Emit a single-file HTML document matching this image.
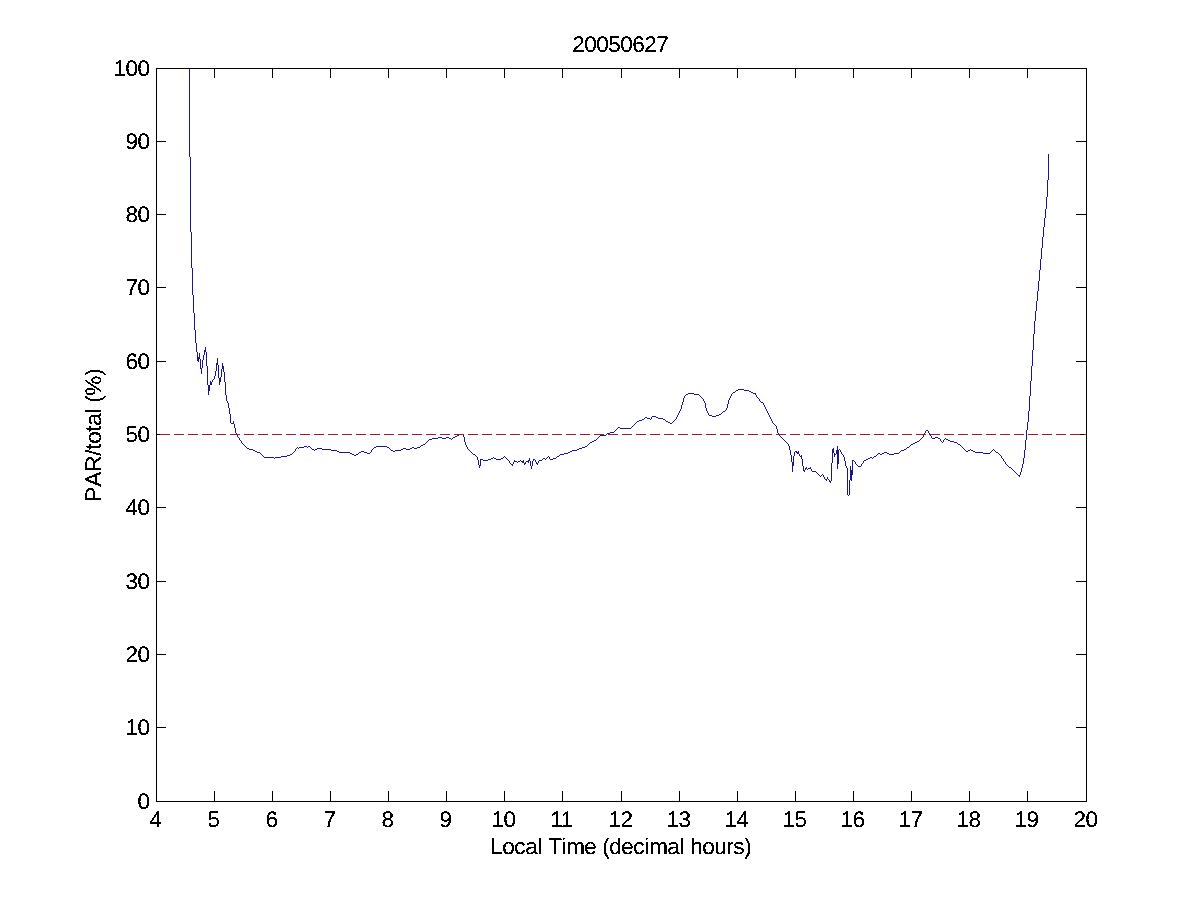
<!DOCTYPE html>
<html><head><meta charset="utf-8"><title>20050627</title>
<style>
html,body{margin:0;padding:0;background:#fff;}
body{width:1200px;height:900px;overflow:hidden;}
svg{display:block;will-change:transform;}
text{font-family:"Liberation Sans",sans-serif;font-size:22.5px;fill:#000;letter-spacing:-0.51px;}
</style></head>
<body>
<svg width="1200" height="900" viewBox="0 0 1200 900">
<defs><filter id="al" x="-20%" y="-20%" width="140%" height="140%" color-interpolation-filters="sRGB"><feComponentTransfer><feFuncA type="discrete" tableValues="0 0 1 1 1"/></feComponentTransfer></filter></defs>
<rect width="1200" height="900" fill="#fff"/>
<g shape-rendering="crispEdges" fill="none">
<path d="M214.5 801.5V791.0M214.5 68.5V78.0M272.5 801.5V791.0M272.5 68.5V78.0M330.5 801.5V791.0M330.5 68.5V78.0M388.5 801.5V791.0M388.5 68.5V78.0M446.5 801.5V791.0M446.5 68.5V78.0M504.5 801.5V791.0M504.5 68.5V78.0M562.5 801.5V791.0M562.5 68.5V78.0M621.5 801.5V791.0M621.5 68.5V78.0M679.5 801.5V791.0M679.5 68.5V78.0M737.5 801.5V791.0M737.5 68.5V78.0M795.5 801.5V791.0M795.5 68.5V78.0M853.5 801.5V791.0M853.5 68.5V78.0M911.5 801.5V791.0M911.5 68.5V78.0M969.5 801.5V791.0M969.5 68.5V78.0M1027.5 801.5V791.0M1027.5 68.5V78.0M156.5 727.5H166.0M1086.5 727.5H1076.0M156.5 654.5H166.0M1086.5 654.5H1076.0M156.5 581.5H166.0M1086.5 581.5H1076.0M156.5 507.5H166.0M1086.5 507.5H1076.0M156.5 434.5H166.0M1086.5 434.5H1076.0M156.5 361.5H166.0M1086.5 361.5H1076.0M156.5 287.5H166.0M1086.5 287.5H1076.0M156.5 214.5H166.0M1086.5 214.5H1076.0M156.5 141.5H166.0M1086.5 141.5H1076.0" stroke="#000" stroke-width="1"/>
<path d="M189.5 68v89M190.5 157v75M191.5 232v36M192.5 268v27M193.5 295v18M194.5 313v17M195.5 330v13M196.5 343v9M197.5 352v9M198.5 357v5M199.5 353v6M200.5 359v10M201.5 368v6M202.5 360v8M203.5 355v5M204.5 350v5M205.5 347v5M206.5 352v14M207.5 366v19M208.5 385v10M209.5 385v6M210.5 381v4M211.5 382v3M212 380.5h1M212 381.5h1M213 379.5h1M214.5 376v3M215.5 371v5M216.5 363v8M217.5 358v7M218.5 365v13M219.5 378v7M220.5 377v5M221.5 369v8M222.5 363v6M223.5 366v6M224.5 372v10M225.5 382v13M226.5 395v6M227 401.5h1M227 402.5h1M228.5 403v5M229.5 408v6M230.5 414v9M231 423.5h2M233.5 421v3M234.5 424v4M235.5 428v5M236 433.5h1M236 434.5h1M237 435.5h1M237 436.5h1M238 437.5h1M239 438.5h1M239 439.5h1M240 440.5h1M241 441.5h1M241 442.5h1M242 443.5h1M243 444.5h1M244 445.5h1M245 446.5h1M246 447.5h1M247 448.5h2M249 449.5h4M253 450.5h2M255 451.5h2M257 452.5h3M260 453.5h1M261 454.5h1M262 455.5h1M263 456.5h1M264 457.5h10M274 458.5h1M275 457.5h6M281 456.5h6M287 455.5h3M290 454.5h2M292 453.5h1M293 452.5h1M294 451.5h1M295 449.5h1M295 450.5h1M296 448.5h1M297 447.5h1M298 448.5h1M299 447.5h5M304 446.5h3M307 447.5h1M308 446.5h2M310 447.5h1M311 448.5h1M312 449.5h2M314 450.5h1M315 449.5h2M317 448.5h5M322 449.5h9M331 450.5h6M337 451.5h2M339 452.5h11M350 453.5h2M352 454.5h2M354 455.5h2M356 454.5h2M358 453.5h1M359 452.5h2M361 451.5h3M364 452.5h3M367 453.5h3M370 452.5h1M371 450.5h1M371 451.5h1M372 449.5h1M373 448.5h1M374 447.5h2M376 446.5h11M387 447.5h2M389 448.5h1M390 449.5h1M391 450.5h2M393 451.5h2M395 450.5h6M401 449.5h2M403 448.5h3M406 449.5h4M410 448.5h2M412 447.5h2M414 448.5h3M417 447.5h3M420 446.5h1M421 445.5h2M423 444.5h2M425 443.5h1M426 442.5h1M427 441.5h1M428 440.5h1M429 439.5h3M432 438.5h6M438 437.5h4M442 438.5h4M446 437.5h3M449 438.5h2M451 439.5h1M452 438.5h1M453 437.5h2M455 436.5h2M457 435.5h2M459 434.5h4M463.5 434v3M464.5 437v5M465.5 442v3M466 445.5h1M466 446.5h1M467 447.5h1M467 448.5h1M468 449.5h1M469 450.5h1M470 451.5h1M471 452.5h1M472 453.5h1M473 454.5h2M475 455.5h1M476 456.5h1M477.5 457v3M478.5 460v5M479.5 465v3M480.5 459v7M481 459.5h2M483 460.5h5M488 459.5h3M491 458.5h2M493 457.5h1M494 458.5h2M496 459.5h5M501 458.5h2M503 457.5h1M504 456.5h1M505 457.5h1M506 458.5h1M507 459.5h1M508 460.5h1M509 461.5h1M509 462.5h1M510 463.5h1M511 464.5h2M512 465.5h1M513 462.5h1M513 463.5h1M514 460.5h1M514 461.5h3M517 462.5h1M518 461.5h2M520 460.5h1M521 461.5h2M522 462.5h1M523.5 460v3M524 463.5h2M524 464.5h1M525 462.5h1M526 461.5h2M528.5 460v3M529.5 458v3M530.5 461v5M531.5 466v3M532.5 461v5M533 459.5h2M533 460.5h1M535 460.5h1M535 461.5h1M536 462.5h1M536 463.5h2M537 464.5h1M538 461.5h1M538 462.5h1M539 460.5h3M542 459.5h1M543 458.5h2M545 459.5h1M546 458.5h1M547 457.5h1M548 456.5h1M549 457.5h1M549 458.5h1M550 459.5h3M553 458.5h3M556 457.5h1M557 456.5h2M559 455.5h1M560 454.5h4M564 453.5h4M568 452.5h2M570 451.5h2M572 450.5h5M577 449.5h2M579 448.5h3M582 447.5h3M585 446.5h2M587 445.5h1M588 444.5h1M589 443.5h1M590 442.5h2M592 441.5h2M594 440.5h2M596 439.5h1M597 438.5h1M598 437.5h1M599 436.5h1M600 435.5h6M606 434.5h1M607 433.5h3M610 432.5h4M614 431.5h1M615 430.5h1M616 429.5h1M617 428.5h1M618 427.5h2M620 428.5h11M631 427.5h1M632 426.5h1M633 425.5h1M634 424.5h1M635 423.5h1M636 422.5h1M637 421.5h2M639 420.5h3M642 419.5h2M644 418.5h1M645 417.5h2M647 418.5h3M650 419.5h1M651 417.5h1M651 418.5h1M652 416.5h4M656 417.5h2M658 418.5h5M663 419.5h2M665 420.5h1M666 421.5h2M668 422.5h2M670 423.5h2M672 422.5h1M673 421.5h1M674 420.5h1M675 419.5h1M676 417.5h1M676 418.5h1M677 415.5h1M677 416.5h1M678 413.5h1M678 414.5h1M679 411.5h1M679 412.5h1M680 409.5h1M680 410.5h1M681.5 405v4M682.5 402v3M683.5 398v4M684 396.5h1M684 397.5h1M685 395.5h1M686 394.5h2M688 393.5h6M694 394.5h5M699 395.5h1M700 396.5h1M701 397.5h1M702 398.5h1M703 399.5h1M703 400.5h1M704 401.5h1M704 402.5h1M705.5 403v5M706.5 408v3M707 411.5h1M707 412.5h1M708 413.5h1M708 414.5h1M709 415.5h3M712 416.5h4M716 415.5h3M719 414.5h2M721 413.5h1M722 412.5h1M723 411.5h2M725 410.5h1M726 408.5h1M726 409.5h1M727.5 404v4M728.5 400v4M729 398.5h1M729 399.5h1M730 396.5h1M730 397.5h1M731 394.5h1M731 395.5h1M732 393.5h1M733 392.5h2M735 391.5h1M736 390.5h2M738 389.5h6M744 390.5h5M749 391.5h2M751 392.5h2M753 393.5h3M755 394.5h1M756 395.5h1M756 396.5h1M757 397.5h1M758 398.5h1M759 399.5h1M759 400.5h1M760 401.5h1M761 402.5h2M763 403.5h1M763 404.5h1M764 405.5h1M764 406.5h1M765 407.5h1M765 408.5h1M766 409.5h1M766 410.5h1M767 411.5h1M767 412.5h1M768 413.5h1M768 414.5h1M769 415.5h1M769 416.5h1M770 417.5h1M770 418.5h1M771 419.5h1M771 420.5h1M772 421.5h1M772 422.5h1M773 423.5h1M774 424.5h1M775 425.5h1M776.5 426v3M777.5 429v4M778 433.5h1M778 434.5h1M779 435.5h1M780 436.5h1M781 437.5h1M782 438.5h1M783 439.5h1M784 440.5h1M785 441.5h1M786 442.5h1M787 443.5h1M788 444.5h1M788 445.5h1M789.5 446v4M790.5 450v5M791.5 455v7M792.5 462v10M793.5 456v10M794.5 452v4M795 451.5h2M796 452.5h2M797 453.5h1M798.5 451v3M799 454.5h1M799 455.5h1M800 456.5h1M801.5 455v4M802.5 459v7M803.5 466v5M804 470.5h1M804 471.5h1M805 468.5h2M805 469.5h1M806 467.5h1M807 469.5h1M808 468.5h3M810 467.5h1M811 469.5h1M811 470.5h1M812 471.5h4M816 472.5h1M817 473.5h1M818 474.5h1M819 475.5h1M820 476.5h1M821 475.5h1M822 474.5h1M823 475.5h1M823 476.5h1M824 477.5h1M824 478.5h1M825 479.5h2M826 480.5h1M827 477.5h1M827 478.5h1M828 479.5h1M829 480.5h1M829 481.5h2M830 482.5h1M831.5 463v18M832.5 449v14M833.5 448v5M834.5 453v4M835 454.5h1M836.5 450v4M837.5 446v23M838.5 450v14M839 449.5h1M840 450.5h1M840 451.5h1M841 452.5h1M841 453.5h1M842 454.5h1M843 455.5h1M843 456.5h1M844.5 457v4M845.5 461v5M846 466.5h1M846 467.5h1M847.5 468v27M848 495.5h1M849.5 480v15M850.5 466v14M851.5 470v11M852.5 460v15M853 460.5h1M854 461.5h1M855 462.5h1M855 463.5h1M856 464.5h1M857 465.5h1M858 466.5h3M861 464.5h1M861 465.5h1M862 463.5h1M863 461.5h1M863 462.5h1M864 460.5h2M866 459.5h2M868 458.5h2M870 457.5h2M872 458.5h1M873 457.5h1M874 456.5h2M876 455.5h1M877 454.5h1M878 453.5h2M880 454.5h2M882 453.5h2M884 452.5h3M887 453.5h2M889 454.5h5M894 453.5h5M899 452.5h1M900 451.5h1M901 450.5h3M904 449.5h2M906 448.5h1M907 447.5h2M909 446.5h1M910 445.5h1M911 444.5h2M913 443.5h2M915 442.5h2M917 441.5h2M919 440.5h1M920 439.5h1M921 438.5h1M922 437.5h1M923 435.5h1M923 436.5h1M924 433.5h1M924 434.5h1M925 431.5h1M925 432.5h1M926 430.5h2M928 431.5h1M928 432.5h1M929 433.5h1M929 434.5h1M930 435.5h1M931 436.5h1M931 437.5h1M932 438.5h3M935 437.5h3M938 438.5h2M940 439.5h1M940 440.5h1M941 441.5h1M942 442.5h1M943 440.5h1M943 441.5h1M944 439.5h1M945 438.5h1M946 439.5h2M948 440.5h2M950 441.5h4M954 442.5h3M957 443.5h1M958 444.5h2M960 445.5h1M961 446.5h1M962 447.5h1M963 448.5h1M964 449.5h1M965 450.5h1M966 451.5h2M968 450.5h2M970 449.5h1M971 450.5h2M973 451.5h2M975 452.5h8M983 453.5h7M990 452.5h1M991 451.5h1M992 450.5h1M993 449.5h1M994 450.5h1M995 451.5h1M996 452.5h2M998 453.5h1M999 454.5h1M1000 455.5h1M1001 456.5h1M1001 457.5h1M1002 458.5h1M1003 459.5h1M1003 460.5h1M1004 461.5h1M1005 462.5h1M1005 463.5h1M1006 464.5h1M1007 465.5h1M1008 466.5h1M1009 467.5h2M1011 468.5h1M1012 469.5h1M1013 470.5h1M1014 471.5h1M1015 472.5h1M1016 473.5h1M1017 474.5h1M1018 475.5h2M1019 476.5h1M1020.5 472v3M1021.5 468v4M1022.5 464v4M1023.5 458v6M1024.5 450v8M1025.5 440v10M1026.5 430v10M1027.5 422v8M1028.5 411v11M1029.5 396v15M1030.5 381v15M1031.5 366v15M1032.5 350v16M1033.5 334v16M1034.5 321v13M1035.5 311v10M1036.5 301v10M1037.5 291v10M1038.5 281v10M1039.5 270v11M1040.5 259v11M1041.5 248v11M1042.5 237v11M1043.5 227v10M1044.5 218v9M1045.5 209v9M1046.5 197v12M1047.5 180v17M1048.5 154v26" stroke="#181688" stroke-width="1"/>
<path d="M160 434.5H1087" stroke="#9e1f27" stroke-width="1" stroke-dasharray="10 4"/>
<rect x="156.5" y="68.5" width="930.0" height="733.0" stroke="#000" stroke-width="1"/>
</g>
<g><g filter="url(#al)"><text transform="translate(155.5 827) rotate(0.03)" text-anchor="middle">4</text></g><g filter="url(#al)"><text transform="translate(213.5 827) rotate(0.03)" text-anchor="middle">5</text></g><g filter="url(#al)"><text transform="translate(271.5 827) rotate(0.03)" text-anchor="middle">6</text></g><g filter="url(#al)"><text transform="translate(329.5 827) rotate(0.03)" text-anchor="middle">7</text></g><g filter="url(#al)"><text transform="translate(387.5 827) rotate(0.03)" text-anchor="middle">8</text></g><g filter="url(#al)"><text transform="translate(445.5 827) rotate(0.03)" text-anchor="middle">9</text></g><g filter="url(#al)"><text transform="translate(503.5 827) rotate(0.03)" text-anchor="middle">10</text></g><g filter="url(#al)"><text transform="translate(561.5 827) rotate(0.03)" text-anchor="middle">11</text></g><g filter="url(#al)"><text transform="translate(620.5 827) rotate(0.03)" text-anchor="middle">12</text></g><g filter="url(#al)"><text transform="translate(678.5 827) rotate(0.03)" text-anchor="middle">13</text></g><g filter="url(#al)"><text transform="translate(736.5 827) rotate(0.03)" text-anchor="middle">14</text></g><g filter="url(#al)"><text transform="translate(794.5 827) rotate(0.03)" text-anchor="middle">15</text></g><g filter="url(#al)"><text transform="translate(852.5 827) rotate(0.03)" text-anchor="middle">16</text></g><g filter="url(#al)"><text transform="translate(910.5 827) rotate(0.03)" text-anchor="middle">17</text></g><g filter="url(#al)"><text transform="translate(968.5 827) rotate(0.03)" text-anchor="middle">18</text></g><g filter="url(#al)"><text transform="translate(1026.5 827) rotate(0.03)" text-anchor="middle">19</text></g><g filter="url(#al)"><text transform="translate(1085.5 827) rotate(0.03)" text-anchor="middle">20</text></g></g>
<g><g filter="url(#al)"><text transform="translate(149.4 809.0) rotate(0.03)" text-anchor="end">0</text></g><g filter="url(#al)"><text transform="translate(149.4 735.0) rotate(0.03)" text-anchor="end">10</text></g><g filter="url(#al)"><text transform="translate(149.4 662.0) rotate(0.03)" text-anchor="end">20</text></g><g filter="url(#al)"><text transform="translate(149.4 589.0) rotate(0.03)" text-anchor="end">30</text></g><g filter="url(#al)"><text transform="translate(149.4 515.0) rotate(0.03)" text-anchor="end">40</text></g><g filter="url(#al)"><text transform="translate(149.4 442.0) rotate(0.03)" text-anchor="end">50</text></g><g filter="url(#al)"><text transform="translate(149.4 369.0) rotate(0.03)" text-anchor="end">60</text></g><g filter="url(#al)"><text transform="translate(149.4 295.0) rotate(0.03)" text-anchor="end">70</text></g><g filter="url(#al)"><text transform="translate(149.4 222.0) rotate(0.03)" text-anchor="end">80</text></g><g filter="url(#al)"><text transform="translate(149.4 149.0) rotate(0.03)" text-anchor="end">90</text></g><g filter="url(#al)"><text transform="translate(149.4 76.0) rotate(0.03)" text-anchor="end">100</text></g></g>
<g filter="url(#al)"><text transform="translate(620 52) rotate(0.03)" x="-47.7 -35.7 -23.7 -11.7 0.3 12.3 24.3 36.3" y="0" style="letter-spacing:0">20050627</text></g>
<g filter="url(#al)"><text transform="translate(620 854) rotate(0.03)" x="-129.7 -117.7 -105.7 -94.7 -82.7 -77.7 -71.7 -58.7 -53.7 -35.7 -23.7 -17.7 -10.7 1.3 13.3 24.3 29.3 47.3 59.3 64.3 70.3 82.3 94.3 106.3 113.3 124.3" y="0" style="letter-spacing:0">Local Time (decimal hours)</text></g>
<g filter="url(#al)"><text transform="translate(101 436) rotate(-89.97)" x="-65.7 -50.7 -35.7 -19.7 -13.7 -7.7 4.3 10.3 22.3 27.3 33.3 40.3 60.3" y="0" style="letter-spacing:0">PAR/total (%)</text></g>
</svg>
</body></html>
